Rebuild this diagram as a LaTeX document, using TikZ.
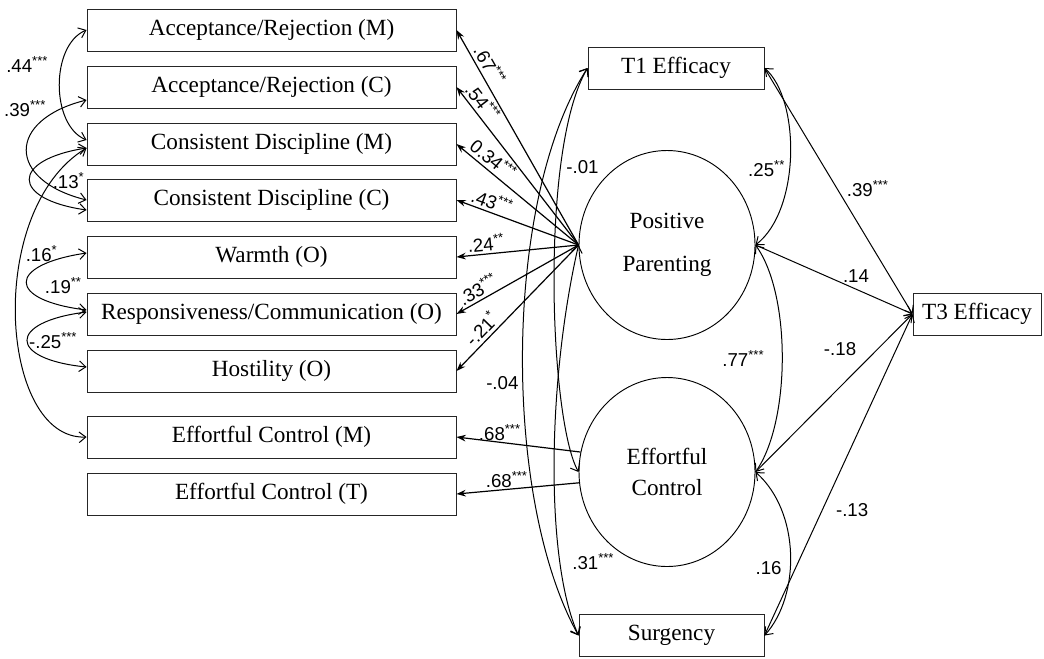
\documentclass[tikz,border=0pt]{standalone}
\usepackage{fontspec}
\setmainfont{Liberation Serif}
\newfontfamily\numfont{Liberation Sans}
\usetikzlibrary{shapes.geometric, arrows.meta, positioning, calc}
\newcommand{\st}[1]{\textsuperscript{#1}}

\begin{document}
\begin{tikzpicture}[x=0.75pt, y=-0.75pt,
  font=\fontsize{17.4}{20}\selectfont,
  obs/.style={draw=black!85, line width=0.7pt, minimum width=276.75pt, minimum height=31.5pt, inner sep=0pt},
  lat/.style={draw, ellipse, line width=0.7pt, minimum width=132pt, minimum height=141.75pt, inner sep=0pt, align=center},
  lab/.style={font=\numfont\fontsize{14}{16}\selectfont, inner sep=1pt},
  load/.style={line width=0.9pt, -{Stealth[length=7pt, width=5pt]}},
  reg/.style={line width=0.75pt, -{Straight Barb[length=5pt, width=8pt]}},
  cov/.style={line width=0.75pt, {Straight Barb[length=5pt, width=8pt]}-{Straight Barb[length=5pt, width=8pt]}}]

  \useasboundingbox (0,0) rectangle (1044,658);

  % ---- indicators (left column) ----
  \node[obs] (accM) at (271.5,30)  {Acceptance/Rejection (M)};
  \node[obs] (accC) at (271.5,87)  {Acceptance/Rejection (C)};
  \node[obs] (cdM)  at (271.5,144) {Consistent Discipline (M)};
  \node[obs] (cdC)  at (271.5,200) {Consistent Discipline (C)};
  \node[obs] (warm) at (271.5,257) {Warmth (O)};
  \node[obs] (resp) at (271.5,314) {Responsiveness/Communication (O)};
  \node[obs] (host) at (271.5,371) {Hostility (O)};
  \node[obs] (ecM)  at (271.5,437) {Effortful Control (M)};
  \node[obs] (ecT)  at (271.5,494) {Effortful Control (T)};

  % ---- latent factors and other variables ----
  \node[lat] (pp) at (667,245) {Positive\\[12pt]Parenting};
  \node[lat] (ec) at (667,472) {Effortful\\[3pt]Control};
  \node[obs, minimum width=132pt] (t1) at (676,68) {T1 Efficacy};
  \node[obs, minimum width=138.75pt] (surg) at (671.5,635.5) {Surgency};
  \node[obs, minimum width=96pt] (t3) at (977,314) {T3 Efficacy};

  % ---- loadings ----
  \draw[load] (pp.west) -- (accM.east) node[lab, sloped, above=1.5pt, pos=.81] {.67\st{***}};
  \draw[load] (pp.west) -- (accC.east) node[lab, sloped, above=1.5pt, pos=.86] {.54\st{***}};
  \draw[load] (pp.west) -- (cdM.east)  node[lab, sloped, above=1.5pt, pos=.76] {0.34\st{***}};
  \draw[load] (pp.west) -- (cdC.east)  node[lab, sloped, above=1pt, pos=.74] {.43\st{***}};
  \draw[load] (pp.west) -- (warm.east) node[lab, sloped, above=1pt, pos=.75] {.24\st{**}};
  \draw[load] (pp.west) -- (resp.east) node[lab, sloped, above=1pt, pos=.78] {.33\st{***}};
  \draw[load] (pp.west) -- (host.east) node[lab, sloped, above=1.5pt, pos=.73] {-.21\st{*}};
  \draw[load] (ec.167) -- (ecM.east) node[lab, above, pos=.65] {.68\st{***}};
  \draw[load] (ec.187) -- (ecT.east) node[lab, above, pos=.59] {.68\st{***}};

  % ---- covariances among indicators ----
  \draw[cov] (accM.west) .. controls +(-36,15) and +(-36,-15) .. ($(cdM.west)+(0,-4)$)
    node[lab, pos=.35, left=9pt] {.44\st{***}};
  \draw[cov] ($(accC.west)+(0,13)$) .. controls +(-80,20) and +(-80,-20) .. (cdC.west)
    node[lab, pos=.12, left=10pt] {.39\st{***}};
  \draw[cov] ($(cdM.west)+(0,4)$) .. controls +(-76,12) and +(-76,-11) .. ($(cdC.west)+(0,10)$)
    node[lab, pos=.52, right=16pt] {.13\st{*}};
  \draw[cov] ($(cdM.west)+(0,4)$) .. controls +(-102,62) and +(-87,3) .. (ecM.west)
    node[lab, pos=.34, right=2pt] {.16\st{*}};
  \draw[cov] ($(warm.west)+(0,-4)$) .. controls +(-80,12) and +(-80,-10) .. ($(resp.west)+(0,-4)$)
    node[lab, pos=.55, right=12pt] {.19\st{**}};
  \draw[cov] ($(resp.west)+(0,-2)$) .. controls +(-79,10) and +(-79,-8) .. ($(host.west)+(0,-4)$)
    node[lab, pos=.5, right=0pt] {-.25\st{***}};

  % ---- covariances among predictors ----
  \draw[cov] (t1.east) .. controls +(36,32) and +(45,-35) .. (pp.east)
    node[lab, pos=.56, left=2pt] {.25\st{**}};
  \draw[cov] (pp.east) .. controls +(36,50) and +(35,-50) .. (ec.east)
    node[lab, pos=.5, left=12pt] {.77\st{***}};
  \draw[cov] (ec.east) .. controls +(45,40) and +(36,-40) .. (surg.east)
    node[lab, pos=.58, left=5pt] {.16};
  \draw[cov] (t1.west) .. controls +(-85,132) and +(-76,-136) .. (surg.west)
    node[lab, pos=.55, left=2pt] {-.04};
  \draw[cov] (t1.west) .. controls +(-48,82) and +(-29,-52) .. (ec.west)
    node[lab, pos=.27, right=3pt] {-.01};
  \draw[cov] (pp.west) .. controls +(-31,135) and +(-34,-76) .. (surg.west)
    node[lab, pos=.75, right=8pt] {.31\st{***}};

  % ---- paths to T3 ----
  \draw[reg] (t1.east) -- (t3.west) node[lab, pos=.49, right=6pt] {.39\st{***}};
  \draw[reg] (pp.east) -- (t3.west) node[lab, pos=.64, above=4pt] {.14};
  \draw[reg] (ec.east) -- (t3.west) node[lab, pos=.78, left=15pt] {-.18};
  \draw[reg] (surg.east) -- (t3.west) node[lab, pos=.39, right=9pt] {-.13};
\end{tikzpicture}
\end{document}
